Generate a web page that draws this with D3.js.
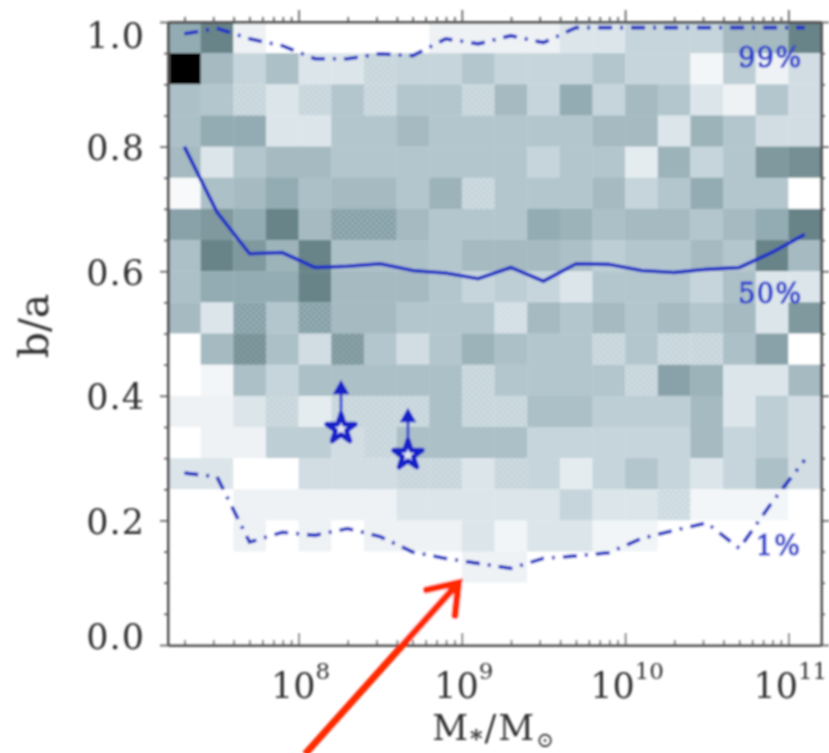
<!DOCTYPE html>
<html>
<head>
<meta charset="utf-8">
<script src="https://d3js.org/d3.v7.min.js"></script>
<style>
  body { margin: 0; background: #fff; }
  text { font-family: "DejaVu Serif", serif; }
</style>
</head>
<body>
<div id="chart"></div>
<script>
// grey level of each 0.2 dex x 0.05 b/a cell, rows run from b/a = 1.0 down to 0.0
var cellLevels = [
  [6,8,1,0,0,0,0,0,1,1,1,1,2,2,3,3,3,5,5,8],
  [9,5,3,4.5,2,2,3,3,3,4,3,3,3,4,3,3,0.7,3.5,1,2.5],
  [4.5,4,3,2,3,4,3,4,4,3,5,3,6,3,5,4,2,1,4,2.5],
  [4.5,6,6,2,2,4,4,5,4,4,4,4,4,5,5,2,5.5,4,2.5,2.5],
  [5,2,4,5,5,4,4,4,4,4,4,3,4,4,1.5,5.5,3,4,7,7.5],
  [0.5,4.5,5,6,4.5,5,5,4,5.5,3,4,4,4,5,3,4,6,4,4,0],
  [6.5,7,6,8,5,6,6,5,4,4,4,6,5.5,4.5,5,5,4,5,6,8],
  [4.5,8,7,5.5,8,4.5,4.5,4.5,4,5,5,5,4.5,3.5,4,4,5,4,8,5],
  [4.5,6,6,6,8,5,5,5,4,3,3.5,3,2,4,4,4,3,4.5,2,2],
  [5,2,6,4,6,5,5,4,4,4,2.5,5,4,5,4,5,4,5,2,7],
  [0,5,7,4.5,2.5,6.5,4,2.5,4,5.5,4.5,4,4,3,4,3,3,4.5,6.5,0],
  [0,0.7,4.5,3,4.5,4.5,4.5,4.5,4.5,3,4,4,4,4,3,6.5,5.5,2,2,5],
  [1,1,2,3,1.5,3,3,3,4.5,3,3,4.5,4.5,3.5,3.5,3.5,5,2,3.5,2.5],
  [0,1,1,3.5,3.5,2.5,3,4.5,4.5,4.5,4.5,3,3,3,3,3,5,3,3.5,2.5],
  [2,2,0,0,2.5,2.5,2.5,3,3,2,3,3,1.5,3,4,3,2,3,4.5,2.5],
  [0,0,1,1,1,1,1,2,2,2,2,2,3,2,2,2.7,0.7,0.7,0.7,0],
  [0,0,1,0,1,0,1,1,1,2,0.8,2,2,0.8,0.8,0,0,0,0,0],
  [0,0,0,0,0,0,0,0,0,1,1,0,0,0,0,0,0,0,0,0],
  [0,0,0,0,0,0,0,0,0,0,0,0,0,0,0,0,0,0,0,0],
  [0,0,0,0,0,0,0,0,0,0,0,0,0,0,0,0,0,0,0,0]
];
var levelSteps = [0,1,2,3,4,5,6,7,8,9];
var levelColors = ["#ffffff","#eef2f5","#dbe5ea","#c6d5db","#b3c6cd","#a5bac1","#93abb2","#7f999f","#688488","#000000"];

// cells that show the halftone dots of the scan, as [row, column]
var lightDots = [[1,6],[2,2],[2,4],[2,6],[2,9],[5,9],[9,10],[10,13],[10,15],[10,16],[11,9],[11,14],[12,3],[12,5],[12,6],[12,7],[12,9],[12,10],[13,6],[14,7],[14,8],[14,10],[15,15]];
var darkDots = [[6,5],[6,6],[9,2],[9,4],[10,2],[10,5]];

// percentile curves, one value per mass bin
var log10Mass = [7.3,7.5,7.7,7.9,8.1,8.3,8.5,8.7,8.9,9.1,9.3,9.5,9.7,9.9,10.1,10.3,10.5,10.7,10.9,11.1];
var p99 = [.981,.99,.973,.962,.941,.941,.949,.946,.973,.965,.978,.967,.991,.991,.991,.991,.991,.991,.991,.991];
var p50 = [.80,.695,.628,.63,.606,.608,.612,.601,.597,.588,.606,.584,.612,.611,.601,.598,.603,.606,.63,.659];
var p01 = [.276,.27,.165,.181,.176,.187,.174,.149,.139,.131,.123,.139,.143,.148,.171,.184,.196,.155,.229,.297];

// the two starred galaxies with their lower limits
var starLogMass = [8.26,8.67];
var starBa = [.347,.305];
var starLimit = [.42,.375];

var yTicks = [0,.2,.4,.6,.8,1];
var yMinor = [.05,.1,.15,.25,.3,.35,.45,.5,.55,.65,.7,.75,.85,.9,.95];
var xTickPowers = [8,9,10,11];
var curveLabels = [
  {text:"99%", logM:10.89, ba:.928},
  {text:"50%", logM:10.89, ba:.549},
  {text:"1%", logM:10.94, ba:.144}
];

// red annotation arrow, tail runs off the bottom of the page
var arrowTail = {logM:8.04, ba:-.175};
var arrowHead = {logM:8.98, ba:.1};

var width = 829, height = 753;
var margin = {top: 22, right: 8, bottom: 108, left: 168};

var x = d3.scaleLog()
    .domain([Math.pow(10,7.2), Math.pow(10,11.2)])
    .range([margin.left, width - margin.right]);
var y = d3.scaleLinear()
    .domain([0,1])
    .range([height - margin.bottom, margin.top]);
var color = d3.scaleLinear().domain(levelSteps).range(levelColors);

var xp = function(l) { return x(Math.pow(10,l)); };

var svg = d3.select("#chart").append("svg")
    .attr("width", width)
    .attr("height", height)
    .style("display","block");

var defs = svg.append("defs");
defs.append("filter").attr("id","soft")
    .attr("filterUnits","userSpaceOnUse")
    .attr("x",0).attr("y",0).attr("width",width).attr("height",height)
  .append("feGaussianBlur").attr("stdDeviation",0.8);

function dots(id, fill, op) {
  var p = defs.append("pattern").attr("id",id)
      .attr("width",6).attr("height",6)
      .attr("patternUnits","userSpaceOnUse");
  p.append("circle").attr("cx",1.5).attr("cy",1.5).attr("r",1.1).attr("fill",fill).attr("opacity",op);
  p.append("circle").attr("cx",4.5).attr("cy",4.5).attr("r",1.1).attr("fill",fill).attr("opacity",op);
}
dots("lightDots","#eef3f5",.55);
dots("darkDots","#5f7b81",.7);

var g = svg.append("g").attr("filter","url(#soft)");

// density cells
var cells = [];
cellLevels.forEach(function(row, r) {
  row.forEach(function(v, c) { cells.push({r:r, c:c, v:v}); });
});
function cellRect(sel) {
  sel.attr("x", function(d) { return xp(7.2 + .2*d.c); })
     .attr("y", function(d) { return y(1 - .05*d.r); })
     .attr("width", function(d) { return xp(7.4 + .2*d.c) - xp(7.2 + .2*d.c) + .3; })
     .attr("height", function(d) { return y(1 - .05*(d.r+1)) - y(1 - .05*d.r) + .3; });
}
g.selectAll(".cell").data(cells).enter().append("rect")
    .attr("class","cell")
    .call(cellRect)
    .attr("fill", function(d) { return color(d.v); });
g.selectAll(".ld").data(lightDots).enter().append("rect")
    .datum(function(d) { return {r:d[0], c:d[1]}; })
    .call(cellRect)
    .attr("fill","url(#lightDots)");
g.selectAll(".dd").data(darkDots).enter().append("rect")
    .datum(function(d) { return {r:d[0], c:d[1]}; })
    .call(cellRect)
    .attr("fill","url(#darkDots)");

// percentile curves
var line = d3.line()
    .x(function(d,i) { return xp(log10Mass[i]); })
    .y(function(d) { return y(d); });
g.append("path").datum(p50).attr("d",line)
    .attr("fill","none").attr("stroke","#1a2fc4").attr("stroke-width",3.6);
[p99,p01].forEach(function(p) {
  g.append("path").datum(p).attr("d",line)
      .attr("fill","none").attr("stroke","#1f33c2").attr("stroke-width",3.6)
      .attr("stroke-dasharray","14 8 3 8");
});

g.selectAll(".curveLabel").data(curveLabels).enter().append("text")
    .attr("class","curveLabel")
    .attr("x", function(d) { return xp(d.logM); })
    .attr("y", function(d) { return y(d.ba); })
    .attr("text-anchor","middle")
    .attr("font-size",27)
    .attr("letter-spacing",1.5)
    .attr("fill","#3346cc")
    .attr("stroke","#3346cc")
    .attr("stroke-width",1.2)
    .text(function(d) { return d.text; });

// stars with upward limit arrows
starLogMass.forEach(function(l,i) {
  g.append("line")
      .attr("x1",xp(l)).attr("x2",xp(l))
      .attr("y1",y(starBa[i])).attr("y2",y(starLimit[i]))
      .attr("stroke","#3a4dd0").attr("stroke-width",3);
  g.append("path")
      .attr("d",d3.symbol(d3.symbolTriangle).size(120))
      .attr("transform","translate(" + xp(l) + "," + (y(starLimit[i]) + 6) + ")")
      .attr("fill","#1522c8");
  g.append("path")
      .attr("d",d3.symbol(d3.symbolStar).size(250))
      .attr("transform","translate(" + xp(l) + "," + y(starBa[i]) + ")")
      .attr("fill","#dfe6ee")
      .attr("stroke","#1522c8").attr("stroke-width",5)
      .attr("stroke-linejoin","round");
});

// axes
var axisColor = "#555";
function styleAxis(a) {
  a.selectAll(".domain").attr("stroke",axisColor).attr("stroke-width",2.6);
  a.selectAll("line").attr("stroke",axisColor).attr("stroke-width",1.6);
}
function labelStyle(a) {
  a.selectAll("text")
      .attr("font-family",'"DejaVu Serif", serif')
      .attr("fill","#333");
}

var minorX = [];
d3.range(7,12).forEach(function(p) {
  d3.range(2,10).forEach(function(m) {
    var v = m*Math.pow(10,p);
    if (v >= x.domain()[0] && v <= x.domain()[1]) minorX.push(v);
  });
});
var majorX = xTickPowers.map(function(p) { return Math.pow(10,p); });
var bottomY = y(0), topY = y(1), leftX = x.range()[0], rightX = x.range()[1];

// bottom axis has its ticks pointing up into the plot
var bottom = g.append("g").attr("transform","translate(0," + bottomY + ")")
    .call(d3.axisBottom(x).tickValues(majorX).tickSizeInner(-12).tickSizeOuter(0).tickFormat(""));
bottom.call(styleAxis);
var bottomMinor = g.append("g").attr("transform","translate(0," + bottomY + ")")
    .call(d3.axisBottom(x).tickValues(minorX).tickSizeInner(-5).tickSizeOuter(0).tickFormat(""));
bottomMinor.call(styleAxis);
var topAxis = g.append("g").attr("transform","translate(0," + topY + ")")
    .call(d3.axisTop(x).tickValues(majorX).tickSizeInner(12).tickSizeOuter(0).tickFormat(""));
topAxis.call(styleAxis);
var topMinor = g.append("g").attr("transform","translate(0," + topY + ")")
    .call(d3.axisTop(x).tickValues(minorX).tickSizeInner(5).tickSizeOuter(0).tickFormat(""));
topMinor.call(styleAxis);

var left = g.append("g").attr("transform","translate(" + leftX + ",0)")
    .call(d3.axisLeft(y).tickValues(yTicks).tickSizeInner(8).tickSizeOuter(0).tickPadding(15)
      .tickFormat(d3.format(".1f")));
left.call(styleAxis).call(labelStyle);
left.selectAll("text")
    .attr("font-size",35)
    .attr("letter-spacing",1)
    .attr("dy", function(d) { return d === 1 ? 25 : d === 0 ? 3 : 13; });
g.append("g").attr("transform","translate(" + leftX + ",0)")
    .call(d3.axisLeft(y).tickValues(yMinor).tickSizeInner(4).tickSizeOuter(0).tickFormat(""))
    .call(styleAxis);
g.append("g").attr("transform","translate(" + rightX + ",0)")
    .call(d3.axisRight(y).tickValues(yTicks).tickSizeInner(8).tickSizeOuter(0).tickFormat(""))
    .call(styleAxis);
g.append("g").attr("transform","translate(" + rightX + ",0)")
    .call(d3.axisRight(y).tickValues(yMinor).tickSizeInner(4).tickSizeOuter(0).tickFormat(""))
    .call(styleAxis);

// power of ten labels
var powerLabel = g.selectAll(".power").data(xTickPowers).enter().append("text")
    .attr("class","power")
    .attr("x", function(d) { return x(Math.pow(10,d)) + 2; })
    .attr("y", bottomY + 53)
    .attr("text-anchor","middle")
    .attr("fill","#333")
    .attr("font-size",35);
powerLabel.append("tspan").text("10");
powerLabel.append("tspan")
    .attr("dy",-19).attr("font-size",23)
    .text(function(d) { return d; });

// axis titles
var xTitle = g.append("text")
    .attr("x",494).attr("y",bottomY + 95)
    .attr("text-anchor","middle")
    .attr("fill","#333")
    .attr("font-size",35)
    .attr("letter-spacing",2);
xTitle.append("tspan").text("M");
xTitle.append("tspan").attr("dy",7).attr("font-size",24).attr("font-weight","bold").text("*");
xTitle.append("tspan").attr("dy",-7).text("/M");
xTitle.append("tspan").attr("dy",7).attr("font-size",21).text("⊙");

g.append("text")
    .attr("transform","translate(48,326) rotate(-90)")
    .attr("text-anchor","middle")
    .attr("fill","#333")
    .attr("font-size",41)
    .text("b/a");

// red arrow
var tip = [xp(arrowHead.logM), y(arrowHead.ba)];
var tail = [xp(arrowTail.logM), y(arrowTail.ba)];
var ang = Math.atan2(tail[1]-tip[1], tail[0]-tip[0]);
var barb = function(da) { return [tip[0] + 33*Math.cos(ang+da), tip[1] + 33*Math.sin(ang+da)]; };
g.append("path")
    .attr("d", d3.line()([tail,tip]))
    .attr("fill","none").attr("stroke","#ff2a00").attr("stroke-width",7);
g.append("path")
    .attr("d", d3.line()([barb(.62),tip,barb(-.62)]))
    .attr("fill","none").attr("stroke","#ff2a00").attr("stroke-width",7)
    .attr("stroke-linecap","round").attr("stroke-linejoin","miter");
</script>
</body>
</html>
